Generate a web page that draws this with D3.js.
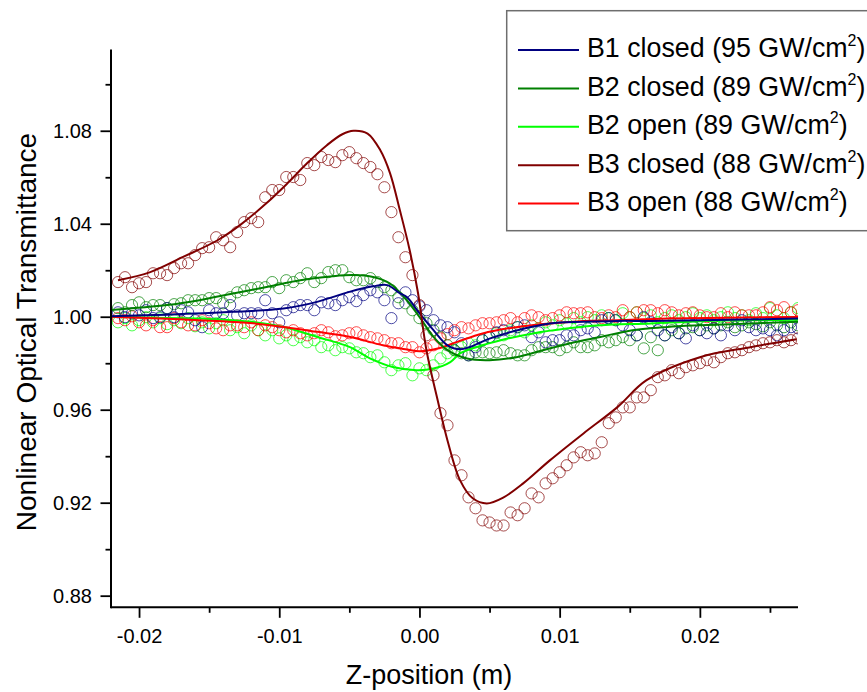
<!DOCTYPE html>
<html><head><meta charset="utf-8">
<script src="https://cdn.jsdelivr.net/npm/d3@7"></script>
<style>body{margin:0;background:#fff}svg{display:block}text{font-family:"Liberation Sans",Arial,sans-serif;fill:#000}</style>
</head><body><svg id="c" width="867" height="692"></svg>
<script>
// ---- data ----
const zPos = [-0.0215,-0.0210,-0.0205,-0.0200,-0.0195,-0.0190,-0.0185,-0.0180,-0.0175,-0.0170,
-0.0165,-0.0160,-0.0155,-0.0150,-0.0145,-0.0140,-0.0135,-0.0130,-0.0125,-0.0120,
-0.0115,-0.0110,-0.0105,-0.0100,-0.0095,-0.0090,-0.0085,-0.0080,-0.0075,-0.0070,
-0.0065,-0.0060,-0.0055,-0.0050,-0.0045,-0.0040,-0.0035,-0.0030,-0.0025,-0.0020,
-0.0015,-0.0010,-0.0005,0.0000,0.0005,0.0010,0.0015,0.0020,0.0025,0.0030,
0.0035,0.0040,0.0045,0.0050,0.0055,0.0060,0.0065,0.0070,0.0075,0.0080,
0.0085,0.0090,0.0095,0.0100,0.0105,0.0110,0.0115,0.0120,0.0125,0.0130,
0.0135,0.0140,0.0145,0.0150,0.0155,0.0160,0.0165,0.0170,0.0175,0.0180,
0.0185,0.0190,0.0195,0.0200,0.0205,0.0210,0.0215,0.0220,0.0225,0.0230,
0.0235,0.0240,0.0245,0.0250,0.0255,0.0260,0.0265,0.0270];

const b1Closed = [1.0019,0.9998,1.0015,1.0006,1.0028,0.9994,0.9998,1.0037,0.9998,1.0028,
1.0019,0.9985,0.9955,1.0028,1.0015,1.0015,1.0050,1.0006,1.0015,1.0015,
1.0015,1.0071,1.0015,0.9976,1.0028,1.0041,1.0050,1.0050,1.0028,1.0062,
1.0058,1.0050,1.0071,1.0084,1.0067,1.0093,1.0114,1.0105,1.0071,0.9994,
1.0058,1.0105,1.0071,1.0045,1.0028,0.9985,0.9963,0.9955,0.9933,0.9886,
0.9834,0.9869,0.9899,0.9912,0.9933,0.9942,0.9933,0.9955,0.9963,0.9912,
0.9933,0.9890,0.9899,0.9899,0.9920,0.9920,0.9942,0.9950,0.9933,0.9985,
0.9994,0.9985,0.9963,0.9942,0.9920,0.9998,0.9976,0.9942,0.9920,0.9955,
0.9929,0.9907,0.9963,0.9942,0.9929,0.9950,0.9920,0.9963,0.9942,0.9985,
0.9955,0.9942,0.9950,0.9942,0.9920,0.9942,0.9955,0.9950];

const b2Closed = [1.0037,1.0019,1.0050,1.0062,1.0041,1.0050,1.0050,1.0037,1.0054,1.0058,
1.0071,1.0071,1.0071,1.0080,1.0080,1.0058,1.0084,1.0105,1.0114,1.0123,
1.0127,1.0127,1.0149,1.0123,1.0157,1.0149,1.0166,1.0187,1.0149,1.0166,
1.0192,1.0200,1.0200,1.0170,1.0157,1.0157,1.0166,1.0149,1.0127,1.0114,
1.0084,1.0058,1.0028,0.9994,0.9972,0.9942,0.9912,0.9877,0.9856,0.9843,
0.9834,0.9847,0.9847,0.9843,0.9847,0.9856,0.9843,0.9834,0.9834,0.9856,
0.9869,0.9869,0.9869,0.9856,0.9869,0.9890,0.9869,0.9869,0.9877,0.9899,
0.9890,0.9899,0.9912,0.9899,0.9920,0.9864,0.9912,0.9856,0.9920,0.9942,
0.9929,0.9950,0.9955,0.9942,0.9963,0.9950,0.9963,0.9976,0.9955,0.9963,
0.9976,0.9968,0.9959,0.9976,0.9963,0.9955,0.9976,0.9963];

const b2Open = [0.9976,0.9994,0.9963,0.9985,0.9998,0.9976,0.9994,0.9968,0.9985,0.9972,
0.9994,0.9959,0.9976,0.9950,0.9972,0.9985,0.9942,0.9955,0.9929,0.9963,
0.9942,0.9920,0.9942,0.9907,0.9920,0.9899,0.9912,0.9890,0.9899,0.9869,
0.9877,0.9856,0.9869,0.9864,0.9847,0.9843,0.9826,0.9834,0.9804,0.9770,
0.9791,0.9800,0.9748,0.9778,0.9770,0.9791,0.9821,0.9843,0.9856,0.9869,
0.9886,0.9877,0.9899,0.9912,0.9929,0.9920,0.9942,0.9955,0.9933,0.9963,
0.9950,0.9976,0.9963,0.9985,0.9972,0.9994,0.9976,0.9998,0.9985,1.0006,
0.9994,0.9985,1.0015,0.9998,1.0019,0.9994,1.0006,0.9976,0.9994,1.0006,
0.9985,0.9998,1.0015,0.9994,1.0006,0.9985,0.9998,1.0019,0.9994,1.0006,
0.9985,1.0015,0.9994,1.0037,1.0006,0.9994,1.0019,1.0037];

const b3Closed = [1.0149,1.0170,1.0127,1.0144,1.0149,1.0187,1.0187,1.0179,1.0209,1.0230,
1.0230,1.0265,1.0295,1.0299,1.0342,1.0329,1.0299,1.0364,1.0407,1.0424,
1.0407,1.0514,1.0545,1.0545,1.0601,1.0601,1.0588,1.0661,1.0652,1.0687,
1.0674,1.0665,1.0695,1.0708,1.0682,1.0661,1.0644,1.0613,1.0557,1.0450,
1.0342,1.0256,1.0179,1.0050,0.9920,0.9748,0.9585,0.9533,0.9382,0.9318,
0.9223,0.9176,0.9124,0.9115,0.9102,0.9102,0.9158,0.9146,0.9176,0.9240,
0.9223,0.9283,0.9305,0.9331,0.9361,0.9395,0.9417,0.9404,0.9412,0.9460,
0.9542,0.9567,0.9610,0.9610,0.9653,0.9653,0.9684,0.9740,0.9748,0.9770,
0.9757,0.9783,0.9791,0.9800,0.9813,0.9804,0.9826,0.9843,0.9847,0.9856,
0.9869,0.9877,0.9886,0.9890,0.9899,0.9890,0.9899,0.9907];

const b3Open = [0.9994,0.9985,1.0002,0.9976,0.9963,0.9985,0.9955,0.9955,0.9994,0.9976,
0.9963,0.9963,0.9985,0.9972,0.9950,0.9942,0.9963,0.9963,0.9955,0.9976,
0.9942,0.9963,0.9955,0.9942,0.9933,0.9942,0.9929,0.9920,0.9929,0.9942,
0.9933,0.9916,0.9920,0.9929,0.9933,0.9920,0.9912,0.9907,0.9899,0.9886,
0.9886,0.9869,0.9869,0.9847,0.9864,0.9877,0.9907,0.9925,0.9942,0.9955,
0.9950,0.9963,0.9972,0.9972,0.9976,0.9985,0.9994,0.9976,0.9994,1.0006,
0.9998,0.9985,0.9994,1.0006,1.0019,1.0015,1.0015,1.0019,0.9998,0.9994,
1.0006,0.9998,1.0028,0.9998,1.0019,1.0028,1.0028,1.0015,1.0028,1.0019,
1.0006,1.0015,1.0019,1.0006,0.9998,0.9998,1.0015,0.9998,1.0019,1.0006,
1.0006,1.0006,1.0019,1.0041,1.0028,1.0041,1.0019,1.0028];

// fitted curves (z, T)
const b1FitZ = [-0.0221,-0.0180,-0.0133,-0.0097,-0.0073,-0.0050,-0.0033,-0.0023,-0.0014,-0.0009,0.0000,0.0010,0.0020,0.0029,0.0036,0.0050,0.0070,0.0093,0.0117,0.0141,0.0165,0.0200,0.0270];
const b1FitT = [1.0002,1.0009,1.0021,1.0035,1.0064,1.0107,1.0131,1.0136,1.0101,1.0085,1.0015,0.9942,0.9877,0.9860,0.9870,0.9906,0.9942,0.9971,0.9978,0.9982,0.9982,0.9985,0.9992];
const b2cFitZ = [-0.0221,-0.0180,-0.0157,-0.0133,-0.0109,-0.0085,-0.0062,-0.0047,-0.0033,-0.0021,-0.0009,0.0000,0.0010,0.0020,0.0034,0.0050,0.0070,0.0088,0.0107,0.0129,0.0152,0.0177,0.0200,0.0236,0.0270];
const b2cFitT = [1.0028,1.0050,1.0071,1.0100,1.0128,1.0157,1.0174,1.0179,1.0171,1.0143,1.0071,0.9999,0.9913,0.9856,0.9820,0.9813,0.9827,0.9856,0.9885,0.9913,0.9942,0.9956,0.9963,0.9971,0.9978];
const b2oFitZ = [-0.0221,-0.0180,-0.0157,-0.0121,-0.0097,-0.0073,-0.0050,-0.0035,-0.0019,-0.0002,0.0010,0.0022,0.0029,0.0041,0.0058,0.0081,0.0105,0.0129,0.0165,0.0200,0.0270];
const b2oFitT = [1.0000,0.9994,0.9992,0.9978,0.9956,0.9913,0.9870,0.9820,0.9784,0.9770,0.9777,0.9805,0.9842,0.9870,0.9899,0.9928,0.9949,0.9963,0.9971,0.9981,0.9987];
const b3cFitZ = [-0.0215,-0.0192,-0.0169,-0.0144,-0.0128,-0.0109,-0.0094,-0.0080,-0.0066,-0.0055,-0.0047,-0.0037,-0.0028,-0.0021,-0.0014,-0.0007,-0.0001,0.0005,0.0013,0.0020,0.0029,0.0038,0.0048,0.0060,0.0074,0.0093,0.0117,0.0141,0.0162,0.0200,0.0236,0.0269];
const b3cFitT = [1.0157,1.0192,1.0256,1.0329,1.0394,1.0489,1.0575,1.0661,1.0738,1.0785,1.0800,1.0788,1.0717,1.0618,1.0459,1.0287,1.0101,0.9856,0.9641,0.9468,0.9296,0.9219,0.9197,0.9223,0.9283,0.9382,0.9498,0.9610,0.9727,0.9826,0.9869,0.9903];
const b3oFitZ = [-0.0221,-0.0185,-0.0157,-0.0121,-0.0097,-0.0073,-0.0050,-0.0026,-0.0009,0.0000,0.0013,0.0027,0.0045,0.0070,0.0093,0.0117,0.0141,0.0177,0.0270];
const b3oFitT = [1.0000,0.9992,0.9985,0.9973,0.9956,0.9935,0.9914,0.9877,0.9859,0.9851,0.9863,0.9892,0.9928,0.9956,0.9971,0.9982,0.9985,0.9992,0.9999];

const seriesNames = ["B1 closed (95 GW/cm", "B2 closed (89 GW/cm", "B2 open (89 GW/cm", "B3 closed (88 GW/cm", "B3 open (88 GW/cm"];
const seriesColors = ["#000080", "#008000", "#00ff00", "#800000", "#ff0000"];
const xTicks = [-0.02, -0.01, 0.00, 0.01, 0.02];
const xMinor = [-0.015, -0.005, 0.005, 0.015, 0.025];
const yTicks = [0.88, 0.92, 0.96, 1.00, 1.04, 1.08];
const yMinor = [0.90, 0.94, 0.98, 1.02, 1.06, 1.10];

// ---- chart ----
const svg = d3.select("#c");
const x = d3.scaleLinear().domain([-0.022, 0.027]).range([111, 798]);
const y = d3.scaleLinear().domain([0.875, 1.115]).range([607.3, 49.4]);

svg.append("defs").append("clipPath").attr("id","clip")
  .append("rect").attr("x",111).attr("y",49).attr("width",687).attr("height",559);

const plot = svg.append("g").attr("clip-path","url(#clip)");
const series = [
  {vals:b1Closed, fz:b1FitZ, ft:b1FitT, c:seriesColors[0]},
  {vals:b2Closed, fz:b2cFitZ, ft:b2cFitT, c:seriesColors[1]},
  {vals:b2Open, fz:b2oFitZ, ft:b2oFitT, c:seriesColors[2]},
  {vals:b3Closed, fz:b3cFitZ, ft:b3cFitT, c:seriesColors[3]},
  {vals:b3Open, fz:b3oFitZ, ft:b3oFitT, c:seriesColors[4]}
];
const drawOrder = [2,4,1,0,3];
drawOrder.forEach(k => {
  const s = series[k];
  plot.append("g").selectAll("circle").data(s.vals).join("circle")
    .attr("cx",(d,i)=>x(zPos[i])).attr("cy",d=>y(d)).attr("r",5.6)
    .attr("fill","none").attr("stroke",s.c).attr("stroke-width",1).attr("stroke-opacity",0.7);
});
const line = d3.line().curve(d3.curveCatmullRom.alpha(0.5));
drawOrder.forEach(k => {
  const s = series[k];
  plot.append("path").attr("d", line(s.fz.map((z,i)=>[x(z), y(s.ft[i])])))
    .attr("fill","none").attr("stroke",s.c).attr("stroke-width",2);
});

// axes
const ax = svg.append("g").attr("transform","translate(0,607.3)")
  .call(d3.axisBottom(x).tickValues(xTicks).tickSize(10.5).tickSizeOuter(0));
ax.select(".domain").attr("stroke-width",2).attr("d","M111,0H798");
ax.selectAll(".tick line").attr("stroke-width",1.8);
ax.selectAll(".tick text").attr("font-size",20).attr("y",null).attr("dy",null).attr("transform","translate(0,35.5)")
  .text(d=>d3.format(".2f")(d).replace("−","-"));
const axm = svg.append("g").attr("transform","translate(0,607.3)")
  .call(d3.axisBottom(x).tickValues(xMinor).tickSize(5.5).tickFormat(""));
axm.select(".domain").remove();
axm.selectAll(".tick line").attr("stroke-width",1.8);

const ay = svg.append("g").attr("transform","translate(111,0)")
  .call(d3.axisLeft(y).tickValues(yTicks).tickSize(10.5).tickSizeOuter(0).tickFormat(d3.format(".2f")));
ay.select(".domain").attr("stroke-width",2).attr("d","M0,49.4V608.3");
ay.selectAll(".tick line").attr("stroke-width",1.8);
ay.selectAll(".tick text").attr("font-size",20).attr("x",-19).attr("dy","0.36em");
const aym = svg.append("g").attr("transform","translate(111,0)")
  .call(d3.axisLeft(y).tickValues(yMinor).tickSize(5.5).tickFormat(""));
aym.select(".domain").remove();
aym.selectAll(".tick line").attr("stroke-width",1.8);
svg.selectAll(".tick text").attr("font-family","'Liberation Sans',Arial,sans-serif").attr("fill","#000");

svg.append("text").attr("x",429).attr("y",684).attr("text-anchor","middle").attr("font-size",27).text("Z-position (m)");
svg.append("text").attr("transform","translate(36,332) rotate(-90)").attr("text-anchor","middle").attr("font-size",28).text("Nonlinear Optical Transmittance");

// legend
const lg = svg.append("g");
lg.append("rect").attr("x",506.7).attr("y",10.7).attr("width",400).attr("height",220)
  .attr("fill","#fff").attr("stroke","#6e6e6e").attr("stroke-width",1.5);
seriesNames.forEach((n,i) => {
  const by = 57.3 + i*38.4;
  lg.append("line").attr("x1",518).attr("x2",579).attr("y1",by-7.3).attr("y2",by-7.3)
    .attr("stroke",seriesColors[i]).attr("stroke-width",2);
  const t = lg.append("text").attr("x",587).attr("y",by).attr("font-size",26.8);
  t.append("tspan").text(n);
  t.append("tspan").attr("font-size",16).attr("dy",-11).text("2");
  t.append("tspan").attr("dy",11).text(")");
});
</script></body></html>
